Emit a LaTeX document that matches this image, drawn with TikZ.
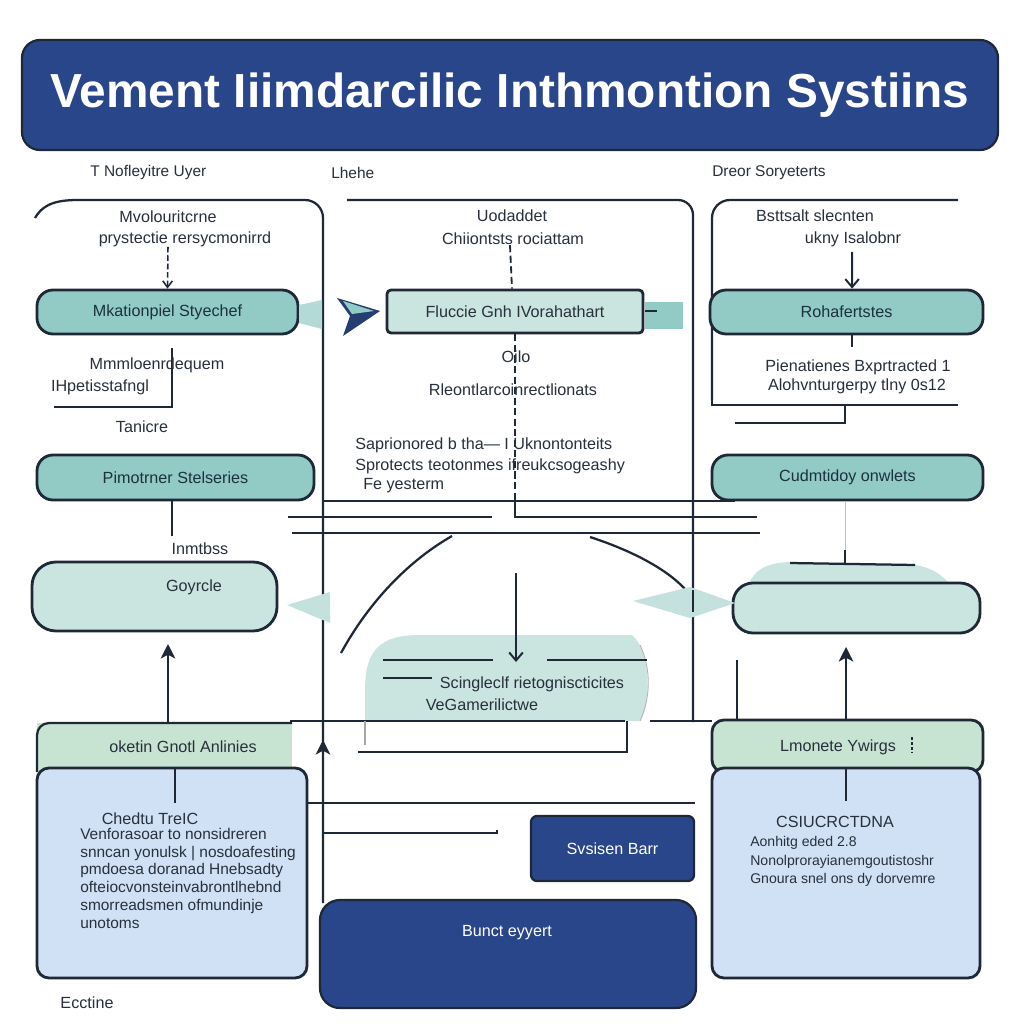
\documentclass[tikz,border=0pt]{standalone}
\usepackage{fontspec}
\setmainfont{Liberation Sans}
\usepackage{tikz}
\usetikzlibrary{arrows.meta,positioning,calc}
\definecolor{navyb}{RGB}{41,70,138}
\definecolor{inkd}{RGB}{30,40,54}
\definecolor{txtd}{RGB}{40,48,60}
\definecolor{tealm}{RGB}{146,202,198}
\definecolor{teall}{RGB}{202,228,223}
\definecolor{greenl}{RGB}{199,227,210}
\definecolor{bluel}{RGB}{208,225,245}
\newcommand{\bodyf}{\fontsize{11.5}{13.5}\selectfont}
\tikzset{
  ttlbox/.style={draw=inkd, line width=1.6pt, fill=navyb, rounded corners=4.5mm, text=white,
    font=\fontsize{34}{38}\bfseries},
  hd/.style={font=\fontsize{11}{12}\selectfont, text=txtd, inner sep=0pt},
  tx/.style={font=\bodyf, text=txtd, inner sep=0pt},
  tbox/.style={draw=inkd, line width=2pt, fill=tealm, rounded corners=4mm, inner sep=0pt,
    font=\bodyf, text=inkd!90!teal},
  lbox/.style={draw=inkd, line width=2pt, fill=teall, rounded corners=6mm, inner sep=0pt},
  bbox/.style={draw=inkd, line width=2pt, fill=bluel, rounded corners=3mm, inner sep=0pt},
  nbox/.style={draw=inkd, line width=1.6pt, fill=navyb, rounded corners=1.5mm, inner sep=0pt,
    font=\bodyf, text=white},
  ln/.style={inkd, line width=1.6pt},
  dln/.style={inkd, line width=1.3pt, dash pattern=on 5pt off 2.5pt},
  darr/.style={-{Straight Barb[length=1.6mm, width=2.4mm]}, inkd, line width=1.1pt, dash pattern=on 4pt off 2pt},
  varr/.style={-{Straight Barb[length=2mm, width=3.4mm]}, inkd, line width=1.4pt},
  uarr/.style={-{Stealth[length=3.6mm, width=3.6mm, inset=0.9mm]}, inkd, line width=1.6pt},
}

\begin{document}
\begin{tikzpicture}[x=0.25mm,y=-0.25mm]
\useasboundingbox (0,0) rectangle (1023,1024);
\fill[white] (0,0) rectangle (1023,1024);

\node[ttlbox, minimum width=244mm, minimum height=27.5mm] (ttl) at (510,95) {Vement Iiimdarcilic Inthmontion Systiins};

\node[hd, anchor=west] (hl) at (90,173) {T Nofleyitre Uyer};
\node[hd, anchor=west] (hm) at (331,173) {Lhehe};
\node[hd, anchor=west] (hr) at (712,173) {Dreor Soryeterts};

% left column
\draw[ln] (35,218) to[out=60,in=180] (80,200) -- (305,200) to[out=0,in=90] (323,218) -- (323,903);
\node[tx] (lt1) at (168,217) {Mvolouritcrne};
\node[tx] (lt2) at (185,239) {prystectie rersycmonirrd};
\node[tbox, minimum width=65.25mm, minimum height=11mm] (mkat) at (167.5,312) {Mkationpiel Styechef};
\draw[darr] ([xshift=-4.25mm]lt2.south) -- (mkat.north);
\fill[tealm!70] (299,305) -- (322,300) -- (322,329) -- (299,323) -- cycle;
\draw[ln] (172,348) -- (172,407) -- (54,407);
\node[tx] (lt3) at (157,365) {Mmmloenrdequem};
\node[tx] (lt4) at (100,387) {IHpetisstafngl};
\node[tx] (lt5) at (142,427) {Tanicre};
\node[tbox, minimum width=69.25mm, minimum height=11.25mm] (pimo) at (175.5,477.5) {Pimotrner Stelseries};
\draw[ln] ([xshift=-0.9mm]pimo.south) -- ++(0,35);
\node[tx] (lt6) at (200,549) {Inmtbss};
\node[lbox, minimum width=61.25mm, minimum height=17.25mm] (goyr) at (154.5,596.5) {};
\node[tx] (lt7) at (194,587) {Goyrcle};
\fill[teall!90!tealm] (287,605) -- (330,592) -- (330,623) -- cycle;
\fill[greenl] (37,723) rectangle (292,772);
\draw[ln, rounded corners=3mm] (37,772) -- (37,723) -- (292,723);
\node[tx] (ghdl) at (183,747) {oketin Gnotl Anlinies};
\node[bbox, minimum width=67.5mm, minimum height=52.5mm] (lbx) at (172,873) {};
\coordinate (ua) at (168,644);
\draw[uarr] (168,723) -- (ua);
\draw[ln] ([xshift=0.75mm]lbx.north) -- ++(0,36);
\node[tx] (lb1) at (150,819) {Chedtu TreIC};
\node[tx, anchor=north west, align=left, font=\fontsize{11}{12.6}\selectfont] (lb2) at (80,828)
  {Venforasoar to nonsidreren\\ snncan yonulsk | nosdoafesting\\ pmdoesa doranad Hnebsadty\\
   ofteiocvonsteinvabrontlhebnd\\ smorreadsmen ofmundinje\\ unotoms};
\node[tx] (lt8) at (87,1003) {Ecctine};

% middle column
\draw[ln] (347,200) -- (678,200) to[out=0,in=90] (693,215) -- (693,722);
\node[tx] (mt1) at (512,216) {Uodaddet};
\node[tx] (mt2) at (513,239) {Chiiontsts rociattam};
\node[draw=inkd, line width=2pt, fill=teall, rounded corners=1mm, inner sep=0pt, font=\bodyf, text=txtd,
  minimum width=64mm, minimum height=10.75mm] (fluc) at (515,311.5) {Fluccie Gnh IVorahathart};
\draw[dln] ([xshift=-0.75mm]mt2.south) -- ([xshift=-0.75mm]fluc.north);
\fill[navyb!70!inkd] (337,298) -- (380,311) -- (343,336) -- (350,316) -- cycle;
\fill[tealm] (343,301) -- (374,311) -- (352,314) -- cycle;
\fill[tealm] (645,302) rectangle (683,329);
\draw[inkd, line width=1.2pt] (645,311) -- (657,311);
\coordinate (mdash) at (515,497);
\draw[dln] (fluc.south) -- (mdash);
\node[tx] (mt3) at (516,357) {Oilo};
\node[tx] (mt4) at (513,390) {Rleontlarcoinrectlionats};
\node[tx, anchor=west] (mt5) at (355,445) {Saprionored b tha— I Uknontonteits};
\node[tx, anchor=west] (mt6) at (355,466) {Sprotects teotonmes ifreukcsogeashy};
\node[tx, anchor=west] (mt7) at (363,486) {Fe yesterm};
\draw[ln] (mdash) -- (515,517) -- (757,517);
\draw[ln] (323,501) -- (735,501);
\draw[ln] (288,517) -- (492,517);
\draw[ln] (292,533) -- (760,533);
\draw[ln] (341,653) .. controls (370,600) and (410,560) .. (452,536);
\draw[ln] (590,537) .. controls (630,550) and (665,568) .. (684,588) -- (693,596);
\fill[teall] (365,721) -- (365,690) .. controls (365,650) and (380,635) .. (420,635) -- (632,635)
  .. controls (650,650) and (652,700) .. (640,721) -- cycle;
\draw[gray!60, line width=0.6pt] (640,645) .. controls (652,670) and (650,700) .. (640,721);
\coordinate (mv) at (516,662);
\draw[varr] (516,573) -- (mv);
\draw[ln] (383,660) -- (493,660);
\draw[ln] (547,660) -- (647,660);
\draw[ln] (383,678) -- (432,678);
\node[tx] (mt8) at (532,684) {Scingleclf rietogniscticites};
\node[tx] (mt9) at (482,705) {VeGamerilictwe};
\draw[ln] (290,721) -- (625,721);
\draw[ln] (650,721) -- (712,721);
\draw[gray!70, line width=0.8pt] (365,721) -- (365,745);
\draw[ln] (627,721) -- (627,752) -- (358,752);
\draw[ln] (307,803) -- (695,803);
\draw[ln] (323,833) -- (497,833) -- ++(0,-3);
\draw[uarr] (323,775) -- (323,740);
\node[nbox, minimum width=40.75mm, minimum height=16.25mm] (svs) at (612.5,848.5) {Svsisen Barr};
\node[nbox, rounded corners=5mm, minimum width=94mm, minimum height=27mm] (bunct) at (508,954) {};
\node[tx, text=white] (mt10) at (507,933) {Bunct eyyert};

% right column
\draw[ln] (712,400) -- (712,218) to[out=90,in=180] (730,200) -- (958,200);
\node[tx] (rt1) at (815,216) {Bsttsalt slecnten};
\node[tx] (rt2) at (853,239) {ukny Isalobnr};
\node[tbox, minimum width=68.25mm, minimum height=11mm] (roha) at (846.5,312) {Rohafertstes};
\draw[varr] (852,252) -- ([xshift=1.4mm]roha.north);
\draw[ln] ([xshift=1.4mm]roha.south) -- ++(0,12);
\node[tx] (rt3) at (858,367) {Pienatienes Bxprtracted 1};
\node[tx] (rt4) at (857,386) {Alohvnturgerpy tlny 0s12};
\draw[ln] (712,400) -- (712,405) -- (958,405);
\draw[ln] (735,423) -- (845,423) -- (845,405);
\node[tbox, minimum width=67.75mm, minimum height=11.25mm] (cudm) at (847.5,477.5) {Cudmtidoy onwlets};
\draw[gray!50, line width=0.6pt] (cudm.south -| 845,0) -- (845,552);
\draw[ln] (845,550) -- (845,565);
\fill[teall] (748,585) .. controls (755,570) and (765,563) .. (790,562) -- (915,565)
  .. controls (935,568) and (945,578) .. (950,585) -- cycle;
\draw[ln] (790,563) -- (915,565);
\node[lbox, rounded corners=5mm, minimum width=61.75mm, minimum height=12.5mm] (rb) at (856.5,608) {};
\fill[teall!90!tealm] (633,601) -- (690,587) -- (735,603) -- (690,618) -- cycle;
\draw[ln] (693,590) -- (693,612);
\coordinate (ub) at (846,647);
\draw[uarr] (846,722) -- (ub);
\draw[ln] (737,660) -- (737,722);
\node[draw=inkd, line width=2pt, fill=greenl, rounded corners=3mm, minimum width=67.75mm,
  minimum height=13mm, inner sep=0pt] (rhdr) at (847.5,746) {};
\node[tx] (rhtx) at (838,747) {Lmonete Ywirgs};
\draw[inkd, line width=0.8pt, dash pattern=on 2pt off 1.5pt] (912,737) -- (912,752);
\node[bbox, minimum width=67mm, minimum height=52.5mm] (rbx) at (846,873) {};
\draw[ln] (rbx.north) -- ++(0,34);
\node[tx] (rb1) at (835,822) {CSIUCRCTDNA};
\node[tx, anchor=north west, align=left, font=\fontsize{10}{13.3}\selectfont] (rb2) at (750,836)
  {Aonhitg eded 2.8\\ Nonolprorayianemgoutistoshr\\ Gnoura snel ons dy dorvemre};
\end{tikzpicture}
\end{document}
